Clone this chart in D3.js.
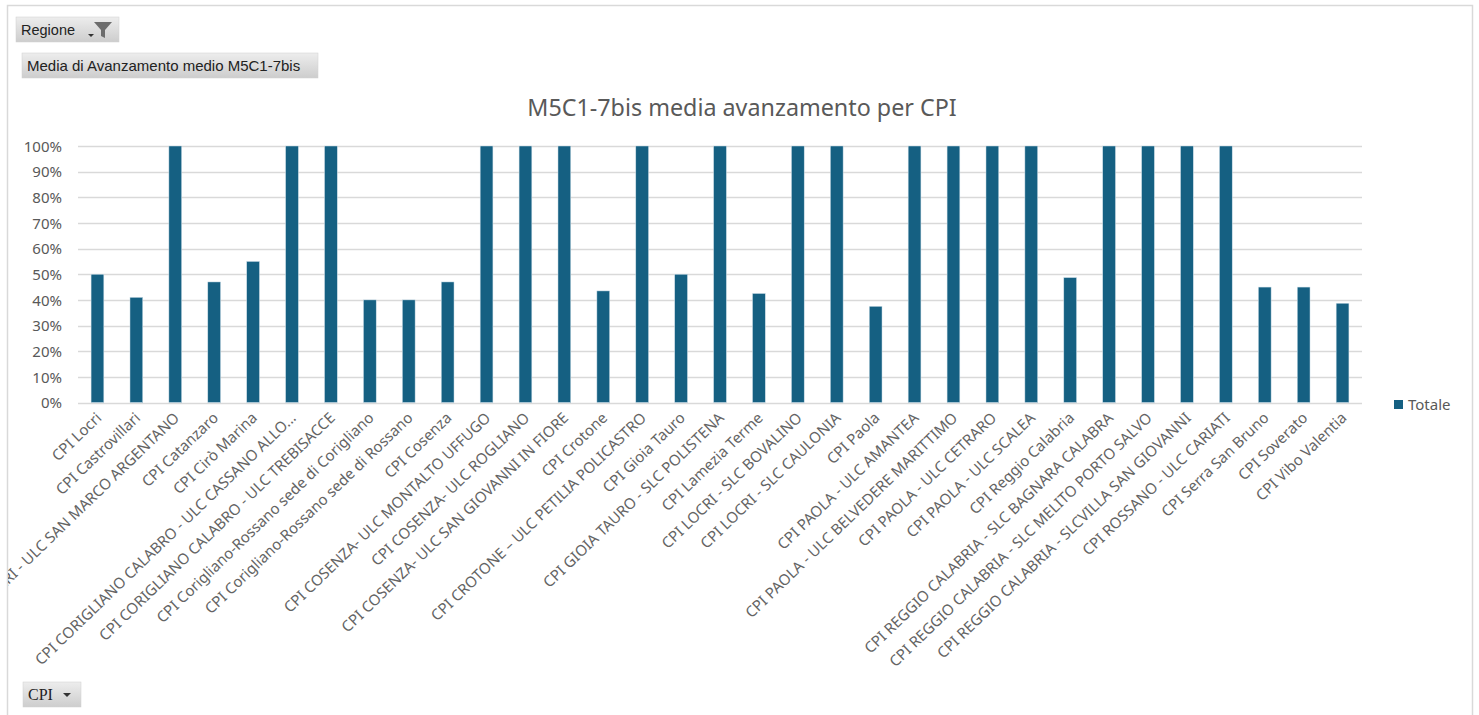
<!DOCTYPE html>
<html>
<head>
<meta charset="utf-8">
<script src="https://cdn.jsdelivr.net/npm/d3@7"></script>
<style>
  html, body { margin: 0; padding: 0; background: #fff; }
  svg { display: block; }
</style>
</head>
<body>
<svg id="chart" width="1479" height="715"></svg>
<script>
const categories = [
  "CPI  Locri",
  "CPI Castrovillari",
  "CPI CASTROVILLARI - ULC SAN MARCO ARGENTANO",
  "CPI Catanzaro",
  "CPI Cirò Marina",
  "CPI CORIGLIANO CALABRO - ULC CASSANO ALLO...",
  "CPI CORIGLIANO CALABRO - ULC TREBISACCE",
  "CPI Corigliano-Rossano sede di Corigliano",
  "CPI Corigliano-Rossano sede di Rossano",
  "CPI Cosenza",
  "CPI COSENZA- ULC MONTALTO UFFUGO",
  "CPI COSENZA- ULC ROGLIANO",
  "CPI COSENZA- ULC SAN GIOVANNI IN FIORE",
  "CPI Crotone",
  "CPI CROTONE – ULC PETILIA POLICASTRO",
  "CPI Gioia Tauro",
  "CPI GIOIA TAURO - SLC POLISTENA",
  "CPI Lamezia Terme",
  "CPI LOCRI - SLC BOVALINO",
  "CPI LOCRI - SLC CAULONIA",
  "CPI Paola",
  "CPI PAOLA - ULC AMANTEA",
  "CPI PAOLA - ULC BELVEDERE MARITTIMO",
  "CPI PAOLA - ULC CETRARO",
  "CPI PAOLA - ULC SCALEA",
  "CPI Reggio Calabria",
  "CPI REGGIO CALABRIA - SLC BAGNARA CALABRA",
  "CPI REGGIO CALABRIA - SLC MELITO PORTO SALVO",
  "CPI REGGIO CALABRIA - SLCVILLA SAN GIOVANNI",
  "CPI ROSSANO - ULC CARIATI",
  "CPI Serra San Bruno",
  "CPI Soverato",
  "CPI Vibo Valentia"
];
const totale = [
  0.50, 0.41, 1.00, 0.47, 0.55, 1.00, 1.00, 0.40, 0.40, 0.47,
  1.00, 1.00, 1.00, 0.435, 1.00, 0.50, 1.00, 0.425, 1.00, 1.00,
  0.375, 1.00, 1.00, 1.00, 1.00, 0.487, 1.00, 1.00, 1.00, 1.00,
  0.45, 0.45, 0.387
];
const yTicks = [0, 0.1, 0.2, 0.3, 0.4, 0.5, 0.6, 0.7, 0.8, 0.9, 1.0];
const seriesName = "Totale";
const chartTitle = "M5C1-7bis media avanzamento per CPI";

const svg = d3.select("#chart");
const textColor = "#595959";
const barColor = "#156082";
const font = "'Noto Sans', sans-serif";
const btnFont = "'Liberation Sans', sans-serif";

// outer frame
svg.append("rect").attr("x", 7.5).attr("y", 5.5).attr("width", 1465).attr("height", 720)
  .attr("fill", "#fff").attr("stroke", "#d9d9d9").attr("stroke-width", 1.5);

const defs = svg.append("defs");
const grad = defs.append("linearGradient").attr("id", "btn").attr("x1", 0).attr("y1", 0).attr("x2", 0).attr("y2", 1);
grad.append("stop").attr("offset", "0%").attr("stop-color", "#ededed");
grad.append("stop").attr("offset", "100%").attr("stop-color", "#cdcdcd");
defs.append("clipPath").attr("id", "clipChart").append("rect")
  .attr("x", 8).attr("y", 6).attr("width", 1464).attr("height", 709);

// field buttons
function button(x, y, w, h, label, fontFam, size) {
  const g = svg.append("g");
  g.append("rect").attr("x", x).attr("y", y).attr("width", w).attr("height", h).attr("fill", "url(#btn)")
    .attr("stroke", "#d0d0d0").attr("stroke-width", 0.5);
  g.append("text").attr("x", x + 5).attr("y", y + h / 2 + 5).attr("font-family", fontFam)
    .attr("font-size", size).attr("fill", "#222").text(label);
  return g;
}
const b1 = button(16, 17, 103, 25, "Regione", btnFont, 14.5);
b1.append("path").attr("d", "M88,34 L94,34 L91,37 Z").attr("fill", "#333");
b1.append("path").attr("d", "M94,22 L112,22 L105,30 L105,38 L101,36 L101,30 Z").attr("fill", "#6d6d6d");
button(22, 53, 296, 25, "Media di Avanzamento medio M5C1-7bis", btnFont, 15);
const b3 = button(23, 682, 58, 25, "CPI", "'Liberation Serif', serif", 16);
b3.append("path").attr("d", "M63,693 L71,693 L67,697 Z").attr("fill", "#333");

// title
svg.append("text").attr("x", 742).attr("y", 116).attr("text-anchor", "middle")
  .attr("font-family", font).attr("font-size", 23.3).attr("fill", textColor).text(chartTitle);

// scales
const x = d3.scaleBand().domain(categories).range([78, 1362]).paddingInner(0.672).paddingOuter(0.336);
const y = d3.scaleLinear().domain([0, 1]).range([402.5, 146]);

// gridlines
svg.append("g").selectAll("line").data(yTicks).join("line")
  .attr("x1", 78).attr("x2", 1362)
  .attr("y1", d => Math.round(y(d)) + 0.5).attr("y2", d => Math.round(y(d)) + 0.5)
  .attr("stroke", "#d9d9d9").attr("stroke-width", 1.3);

// y axis labels
const yAxis = d3.axisLeft(y).tickValues(yTicks).tickFormat(d3.format(".0%")).tickSize(0).tickPadding(0);
const gy = svg.append("g").attr("transform", "translate(62,0)").call(yAxis);
gy.select(".domain").remove();
gy.selectAll("text").attr("font-family", font).attr("font-size", 15).attr("fill", textColor).attr("dy", "0.35em");

// bars
svg.append("g").selectAll("rect").data(totale).join("rect")
  .attr("x", (d, i) => x(categories[i]))
  .attr("width", x.bandwidth())
  .attr("y", d => y(d))
  .attr("height", d => y(0) - y(d))
  .attr("fill", barColor)
  .attr("stroke", "#cfe0ea").attr("stroke-width", 0.5);

// x axis labels
const xAxis = d3.axisBottom(x).tickSize(0).tickPadding(0);
const gx = svg.append("g").attr("transform", "translate(0,403)").attr("clip-path", "url(#clipChart)").call(xAxis);
gx.select(".domain").remove();
gx.selectAll("text")
  .attr("font-family", font).attr("font-size", 15).attr("fill", "#646464")
  .attr("text-anchor", "end").attr("dy", "0")
  .attr("transform", "translate(5,16) rotate(-44)");

// legend
const lg = svg.append("g").attr("transform", "translate(1394,400)");
lg.append("rect").attr("width", 9).attr("height", 9).attr("fill", barColor);
lg.append("text").attr("x", 14).attr("y", 10).attr("font-family", font).attr("font-size", 15)
  .attr("fill", textColor).text(seriesName);
</script>
</body>
</html>
